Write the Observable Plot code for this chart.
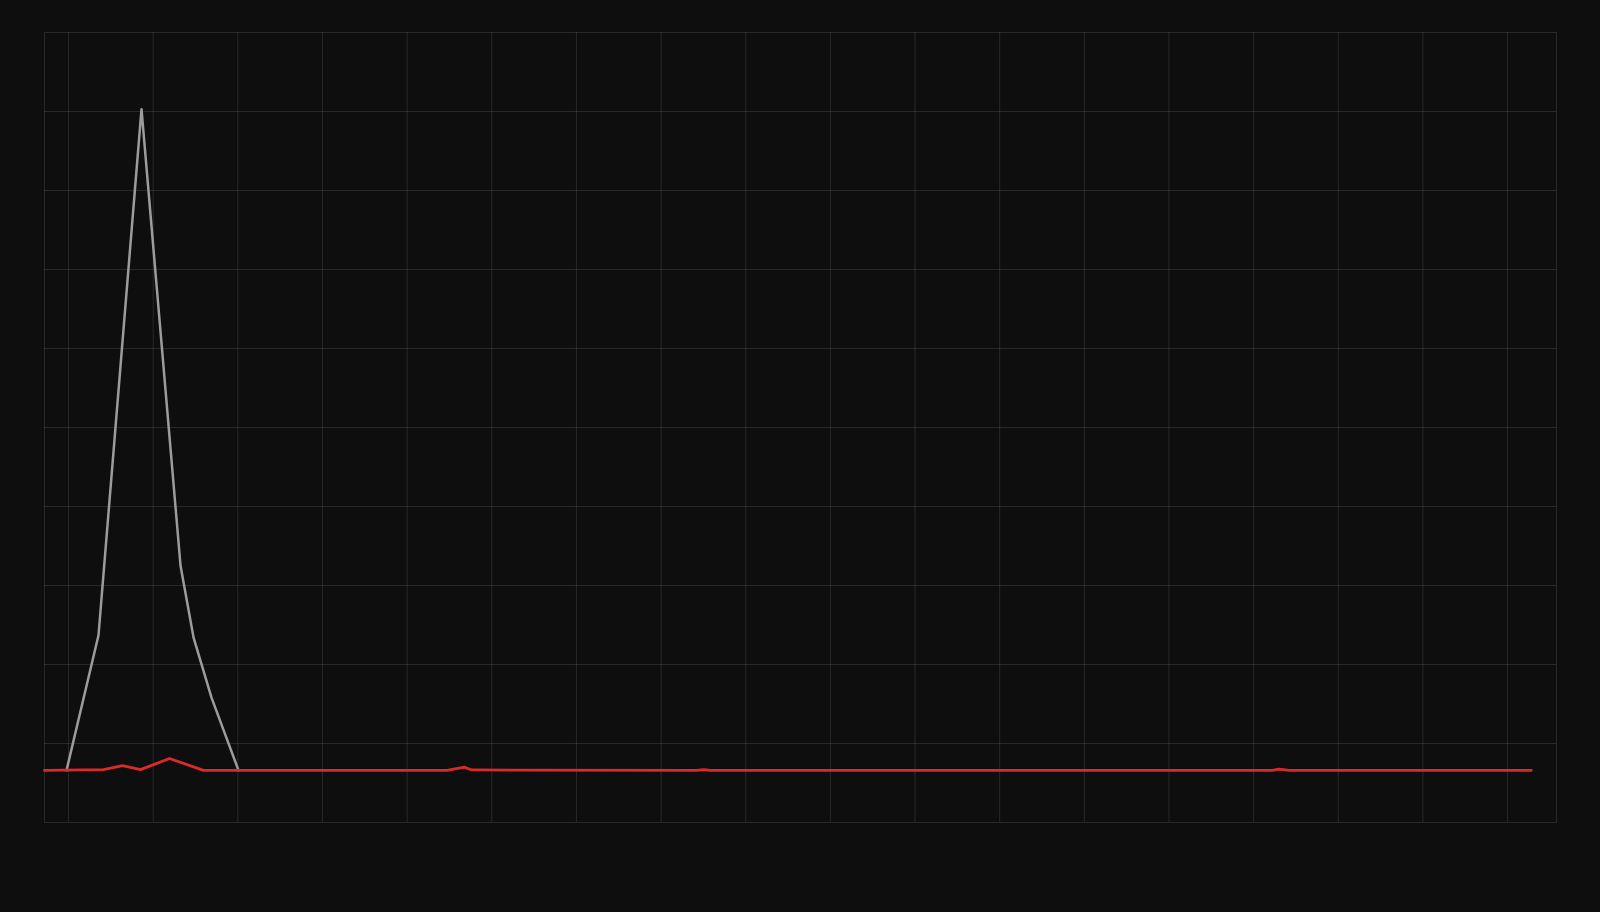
<!DOCTYPE html>
<html>
<head>
<meta charset="utf-8">
<script src="https://cdn.jsdelivr.net/npm/d3@7"></script>
<script src="https://cdn.jsdelivr.net/npm/@observablehq/plot@0.6"></script>
<style>
  html, body { margin: 0; padding: 0; background: #0e0e0e; }
  #chart svg { display: block; }
</style>
</head>
<body>
<div id="chart"></div>
<script>
// Gray series (large spike)
const grayX = [-0.024, 0.354, 0.862, 1.323, 1.477, 1.689, 2.008];
const grayY = [0, 171, 837, 259, 168, 92, 0];

// Red series (near zero throughout)
const redX = [-0.284, 0.413, 0.638, 0.851, 1.193, 1.595, 4.47, 4.68, 4.76, 7.42, 7.5, 7.58, 14.22, 14.3, 14.42, 17.28];
const redY = [0, 1, 6, 1, 15, 0, 0, 4, 0.5, 0, 1, 0, 0, 1.5, 0, 0];

// Grid tick positions
const xTicks = d3.range(0, 18);
const yDomain = [-66, 934];
const yTicks = d3.range(1, 10).map(i => yDomain[0] + i * 100);
const xDomain = [-0.284, 17.578];

const gray = grayX.map((x, i) => ({x, y: grayY[i]}));
const red = redX.map((x, i) => ({x, y: redY[i]}));

const gridColor = "#ffffff";
const gridOpacity = 0.11;

const chart = Plot.plot({
  width: 1600,
  height: 912,
  marginLeft: 44,
  marginRight: 44,
  marginTop: 32,
  marginBottom: 90,
  style: {background: "#0e0e0e"},
  x: {domain: xDomain, axis: null},
  y: {domain: yDomain, axis: null},
  marks: [
    Plot.gridX(xTicks, {stroke: gridColor, strokeOpacity: gridOpacity, strokeWidth: 1}),
    Plot.gridY(yTicks, {stroke: gridColor, strokeOpacity: gridOpacity, strokeWidth: 1}),
    Plot.frame({stroke: gridColor, strokeOpacity: gridOpacity}),
    Plot.line(gray, {x: "x", y: "y", stroke: "#9c9c9c", strokeWidth: 2.5}),
    Plot.line(red, {x: "x", y: "y", stroke: "#dc2a2a", strokeWidth: 2.8})
  ]
});
document.getElementById("chart").appendChild(chart);
</script>
</body>
</html>
